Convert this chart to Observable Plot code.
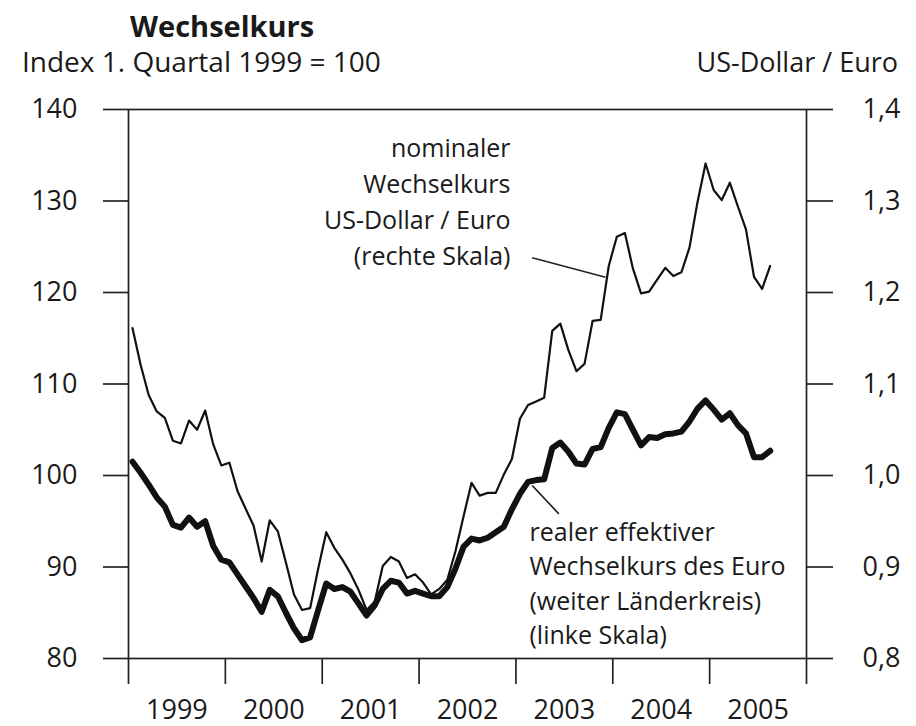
<!DOCTYPE html>
<html><head><meta charset="utf-8">
<script src="https://cdn.jsdelivr.net/npm/d3@7"></script>
<script src="https://cdn.jsdelivr.net/npm/@observablehq/plot@0.6"></script>
<style>
body{margin:0;background:#fff;font-family:"Open Sans",sans-serif;color:#1a1a1a}
#wrap{position:relative;width:916px;height:726px;overflow:hidden}
#header{position:relative;height:90px}
.t{position:absolute;white-space:nowrap;line-height:1}
</style></head><body>
<div id="wrap">
<div id="header">
<div class="t" style="left:130px;top:11px;font-size:29px;font-weight:700">Wechselkurs</div>
<div class="t" style="left:22px;top:47px;font-size:28px">Index 1. Quartal 1999 = 100</div>
<div class="t" style="right:18px;top:48px;font-size:27px">US-Dollar / Euro</div>
</div>
<div id="chart"></div>
</div>
<script>
// monthly data, January 1999 – August 2005
const startYear = 1999;
const yearLabels = [1999, 2000, 2001, 2002, 2003, 2004, 2005];
const yearBounds = [1999, 2000, 2001, 2002, 2003, 2004, 2005, 2006];
const leftTicks = [80, 90, 100, 110, 120, 130, 140];
const rightTickLabels = ["0,8", "0,9", "1,0", "1,1", "1,2", "1,3", "1,4"];

// nominal exchange rate US-Dollar / Euro (right scale)
const nominal = [
  1.161, 1.121, 1.088, 1.070, 1.063, 1.038, 1.035, 1.060, 1.050, 1.071, 1.034, 1.011,
  1.014, 0.983, 0.964, 0.945, 0.906, 0.951, 0.939, 0.905, 0.870, 0.853, 0.855, 0.898,
  0.938, 0.921, 0.908, 0.893, 0.875, 0.853, 0.862, 0.901, 0.911, 0.906, 0.888, 0.892,
  0.883, 0.870, 0.876, 0.886, 0.917, 0.955, 0.992, 0.978, 0.981, 0.981, 1.001, 1.018,
  1.062, 1.077, 1.081, 1.085, 1.158, 1.166, 1.137, 1.114, 1.122, 1.169, 1.170, 1.229,
  1.261, 1.265, 1.226, 1.199, 1.201, 1.214, 1.227, 1.218, 1.222, 1.249, 1.299, 1.341,
  1.312, 1.301, 1.320, 1.294, 1.269, 1.217, 1.204, 1.229
];

// real effective exchange rate of the euro, broad group (left scale)
const real = [
  101.5, 100.3, 99.0, 97.6, 96.6, 94.6, 94.3, 95.4, 94.4, 95.0, 92.3, 90.8,
  90.5, 89.2, 87.9, 86.6, 85.1, 87.5, 86.8, 85.0, 83.3, 82.0, 82.3, 85.3,
  88.2, 87.6, 87.8, 87.3, 86.0, 84.7, 85.8, 87.6, 88.5, 88.3, 87.1, 87.4,
  87.1, 86.8, 86.8, 87.8, 89.8, 92.2, 93.1, 92.9, 93.2, 93.8, 94.4, 96.3,
  98.0, 99.3, 99.5, 99.6, 103.0, 103.6, 102.6, 101.3, 101.2, 102.9, 103.1, 105.2,
  106.9, 106.7, 105.0, 103.3, 104.2, 104.1, 104.5, 104.6, 104.8, 105.9, 107.3, 108.2,
  107.2, 106.1, 106.8, 105.5, 104.6, 102.0, 102.0, 102.7
];

const nominalLabel = "nominaler\nWechselkurs\nUS-Dollar / Euro\n(rechte Skala)";
const realLabel = "realer effektiver\nWechselkurs des Euro\n(weiter Länderkreis)\n(linke Skala)";

const monthX = (d, i) => startYear + (i + 0.5) / 12;
const toLeft = v => 80 + (v - 0.8) * 100;

const ink = "#1a1a1a";
const chart = Plot.plot({
  width: 916,
  height: 636,
  marginTop: 19,
  marginBottom: 68,
  marginLeft: 128,
  marginRight: 110,
  style: {fontFamily: "'Open Sans', sans-serif", fontSize: "27px", color: ink, background: "white", overflow: "visible"},
  x: {domain: [1999, 2006]},
  y: {domain: [80, 140]},
  marks: [
    Plot.frame({stroke: "#222", strokeWidth: 1.7}),
    Plot.axisY({anchor: "left", ticks: leftTicks, tickSize: 25, tickPadding: 26, label: null, stroke: "#222", strokeWidth: 1.7, fontSize: 27}),
    Plot.axisY({anchor: "right", ticks: leftTicks, tickFormat: d => rightTickLabels[leftTicks.indexOf(d)], tickSize: 26, tickPadding: 30, label: null, stroke: "#222", strokeWidth: 1.7, fontSize: 27}),
    Plot.axisX({ticks: yearBounds, tickSize: 26, tickFormat: () => "", label: null, stroke: "#222", strokeWidth: 1.7}),
    Plot.axisX({ticks: yearLabels.map(y => y + 0.5), tickSize: 0, tickPadding: 41, tickFormat: d => String(Math.floor(d)), label: null, fontSize: 27}),
    Plot.line(nominal, {x: monthX, y: toLeft, stroke: "#111", strokeWidth: 2.2, strokeLinejoin: "round"}),
    Plot.line(real, {x: monthX, y: d => d, stroke: "#111", strokeWidth: 6, strokeLinejoin: "round", strokeLinecap: "round"}),
    Plot.link([0], {x1: 2003.168, y1: 123.79, x2: 2003.925, y2: 121.67, stroke: "#222", strokeWidth: 1.5}),
    Plot.link([0], {x1: 2003.168, y1: 98.91, x2: 2003.443, y2: 95.81, stroke: "#222", strokeWidth: 1.7}),
    Plot.text([nominalLabel], {x: 2002.944, y: 137.57, text: d => d, textAnchor: "end", lineAnchor: "top", lineHeight: 1.44, fontSize: 25, fill: ink}),
    Plot.text([realLabel], {x: 2003.14, y: 95.49, text: d => d, textAnchor: "start", lineAnchor: "top", lineHeight: 1.37, fontSize: 25, fill: ink})
  ]
});
document.getElementById("chart").appendChild(chart);
</script>
</body></html>
